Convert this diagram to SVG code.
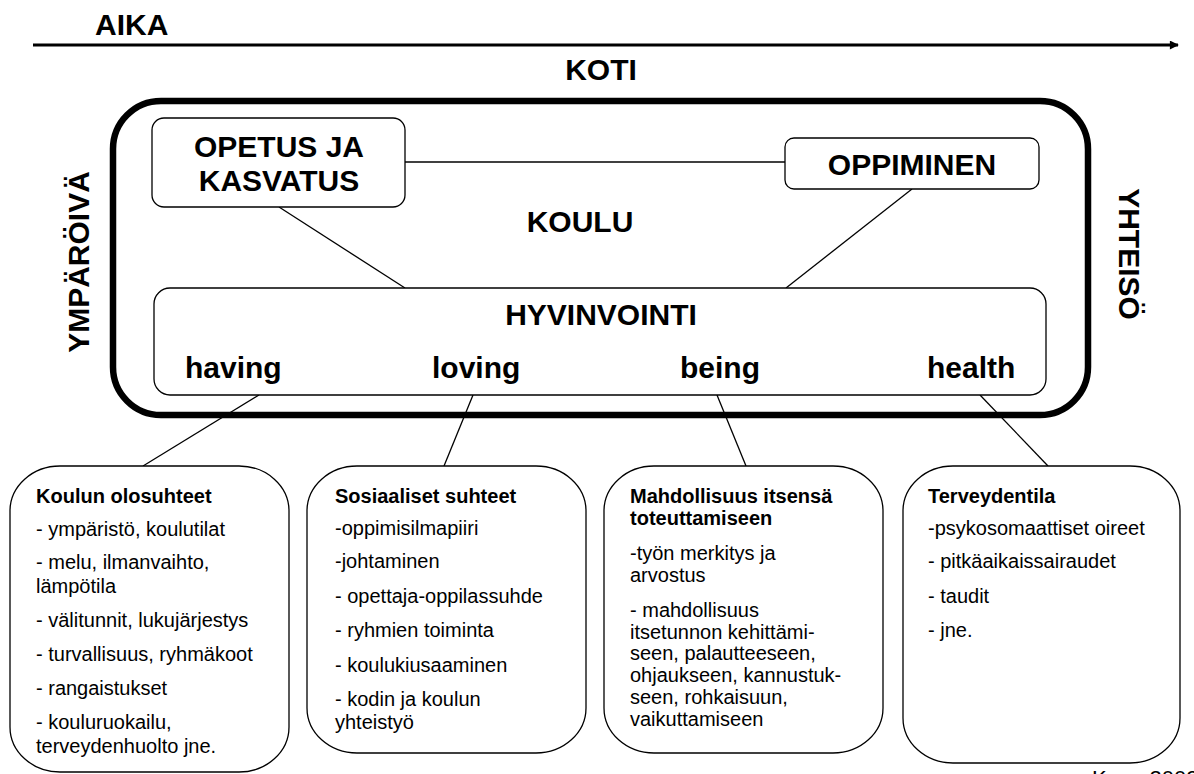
<svg xmlns="http://www.w3.org/2000/svg" width="1194" height="774" viewBox="0 0 1194 774">
<defs>
<style>
text{font-family:"Liberation Sans",Arial,sans-serif;fill:#000}
.big{font-size:30px;font-weight:bold}
.t{font-size:20px}
.h{font-size:20px;font-weight:bold}
.box{fill:#fff;stroke:#000;stroke-width:1.3}
.ln{stroke:#000;stroke-width:1.3;fill:none}
</style>
<marker id="ah" viewBox="0 0 10 10" refX="9" refY="5" markerWidth="4" markerHeight="3" orient="auto" markerUnits="strokeWidth">
<path d="M0,0 L10,5 L0,10 z" fill="#000"/>
</marker>
</defs>
<rect width="1194" height="774" fill="#fff"/>

<g id="time">
<text class="big" x="95" y="35">AIKA</text>
<line x1="33" y1="45" x2="1178" y2="45" stroke="#000" stroke-width="3" marker-end="url(#ah)"/>
</g>

<g id="koti"><text class="big" x="601" y="80" text-anchor="middle">KOTI</text></g>
<g id="ymparoiva"><text class="big" transform="translate(89,262) rotate(-90)" text-anchor="middle">YMPÄRÖIVÄ</text></g>
<g id="yhteiso"><text class="big" transform="translate(1119,254) rotate(90)" text-anchor="middle">YHTEISÖ</text></g>

<g id="connectors">
<line class="ln" x1="405" y1="162" x2="785" y2="162"/>
<line class="ln" x1="279" y1="207" x2="405" y2="288"/>
<line class="ln" x1="912" y1="189" x2="786" y2="288"/>
<line class="ln" x1="259" y1="395" x2="143" y2="466"/>
<line class="ln" x1="473" y1="395" x2="444" y2="466"/>
<line class="ln" x1="717" y1="395" x2="746" y2="466"/>
<line class="ln" x1="980" y1="395" x2="1048" y2="466"/>
</g>

<g id="koulu">
<rect x="113" y="101" width="975" height="314" rx="48" fill="none" stroke="#000" stroke-width="6.5"/>
<text class="big" x="580" y="232" text-anchor="middle">KOULU</text>
</g>

<g id="opetus">
<rect class="box" x="152" y="118" width="253" height="89" rx="12"/>
<text class="big" x="279" y="157" text-anchor="middle">OPETUS JA</text>
<text class="big" x="279" y="191" text-anchor="middle">KASVATUS</text>
</g>

<g id="oppiminen">
<rect class="box" x="785" y="138" width="254" height="51" rx="9"/>
<text class="big" x="912" y="175" text-anchor="middle">OPPIMINEN</text>
</g>

<g id="hyvinvointi">
<rect class="box" x="154" y="288" width="892" height="107" rx="16"/>
<text class="big" x="601" y="325" text-anchor="middle">HYVINVOINTI</text>
<text class="big" x="185" y="378">having</text>
<text class="big" x="432" y="378">loving</text>
<text class="big" x="680" y="378">being</text>
<text class="big" x="927" y="378">health</text>
</g>

<g id="olosuhteet">
<rect class="box" x="10" y="466" width="279" height="306" rx="50" ry="45"/>
<text class="h" x="36" y="503">Koulun olosuhteet</text>
<text class="t" x="36" y="536">- ympäristö, koulutilat</text>
<text class="t" x="36" y="569">- melu, ilmanvaihto,</text>
<text class="t" x="36" y="593">lämpötila</text>
<text class="t" x="36" y="627">- välitunnit, lukujärjestys</text>
<text class="t" x="36" y="661">- turvallisuus, ryhmäkoot</text>
<text class="t" x="36" y="695">- rangaistukset</text>
<text class="t" x="36" y="729">- kouluruokailu,</text>
<text class="t" x="36" y="753">terveydenhuolto jne.</text>
</g>

<g id="sosiaaliset">
<rect class="box" x="307" y="466" width="279" height="287" rx="50" ry="45"/>
<text class="h" x="335" y="503">Sosiaaliset suhteet</text>
<text class="t" x="335" y="535">-oppimisilmapiiri</text>
<text class="t" x="335" y="568">-johtaminen</text>
<text class="t" x="335" y="603">- opettaja-oppilassuhde</text>
<text class="t" x="335" y="637">- ryhmien toiminta</text>
<text class="t" x="335" y="672">- koulukiusaaminen</text>
<text class="t" x="335" y="706">- kodin ja koulun</text>
<text class="t" x="335" y="729">yhteistyö</text>
</g>

<g id="mahdollisuus">
<rect class="box" x="604" y="466" width="279" height="287" rx="50" ry="45"/>
<text class="h" x="630" y="503">Mahdollisuus itsensä</text>
<text class="h" x="630" y="525">toteuttamiseen</text>
<text class="t" x="630" y="560">-työn merkitys ja</text>
<text class="t" x="630" y="582">arvostus</text>
<text class="t" x="630" y="617">- mahdollisuus</text>
<text class="t" x="630" y="639">itsetunnon kehittämi-</text>
<text class="t" x="630" y="660">seen, palautteeseen,</text>
<text class="t" x="630" y="682">ohjaukseen, kannustuk-</text>
<text class="t" x="630" y="704">seen, rohkaisuun,</text>
<text class="t" x="630" y="726">vaikuttamiseen</text>
</g>

<g id="terveydentila">
<rect class="box" x="903" y="466" width="277" height="297" rx="50" ry="45"/>
<text class="h" x="928" y="503">Terveydentila</text>
<text class="t" x="928" y="535">-psykosomaattiset oireet</text>
<text class="t" x="928" y="568">- pitkäaikaissairaudet</text>
<text class="t" x="928" y="603">- taudit</text>
<text class="t" x="928" y="637">- jne.</text>
</g>

<g id="source"><text x="1092" y="786" style="font-size:22px">Konu 2002</text></g>
</svg>
